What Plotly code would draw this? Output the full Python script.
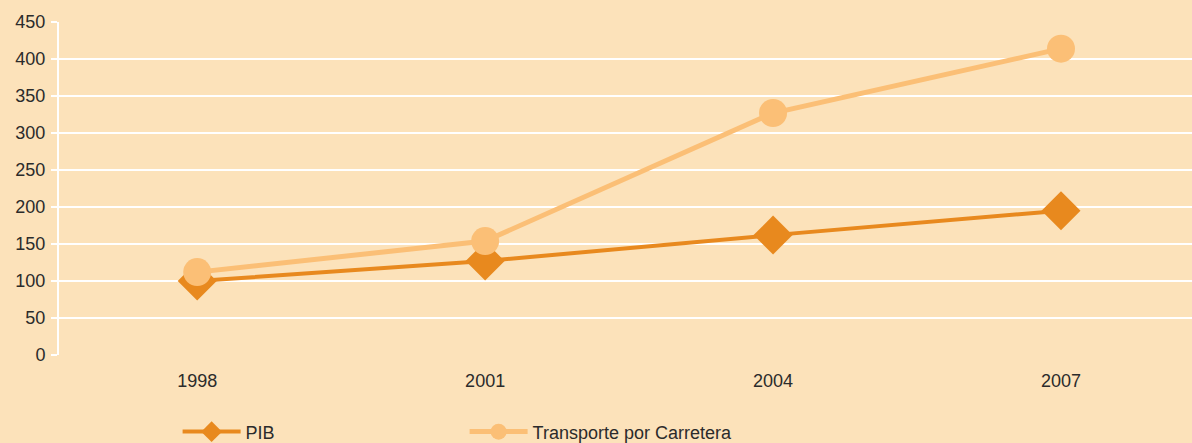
import plotly.graph_objects as go

years = ['1998', '2001', '2004', '2007']
pib = [100, 127, 162, 195]
transporte = [112, 154, 327, 414]
y_ticks = [0, 50, 100, 150, 200, 250, 300, 350, 400, 450]

bg = '#FCE2BA'
font_family = 'Liberation Sans, Arial, sans-serif'

fig = go.Figure()
fig.add_trace(go.Scatter(
    x=years, y=pib, name='PIB',
    mode='lines+markers',
    line=dict(color='#E8891E', width=4),
    marker=dict(symbol='diamond', size=30, color='#E8891E'),
))
fig.add_trace(go.Scatter(
    x=years, y=transporte, name='Transporte por Carretera',
    mode='lines+markers',
    line=dict(color='#FBBF76', width=5),
    marker=dict(symbol='circle', size=28, color='#FBBF76'),
))

fig.update_layout(
    width=1192,
    height=443,
    margin=dict(l=59, r=0, t=22, b=88),
    paper_bgcolor=bg,
    plot_bgcolor=bg,
    font=dict(family=font_family, size=18, color='#2b2b2b'),
    showlegend=True,
    legend=dict(
        orientation='h',
        xref='container', yref='container',
        x=0.149, xanchor='left',
        y=0.025, yanchor='middle',
        bgcolor='rgba(0,0,0,0)',
        itemwidth=58,
        entrywidth=214,
        font=dict(size=18),
    ),
    xaxis=dict(
        type='category',
        range=[-0.48, 3.455],
        showgrid=False,
        showline=False,
        zeroline=False,
        ticks='',
        ticklabelstandoff=13,
    ),
    yaxis=dict(
        range=[0, 450],
        tickvals=y_ticks,
        showgrid=True,
        gridcolor='white',
        gridwidth=2,
        zeroline=False,
        showline=True,
        linecolor='white',
        linewidth=2,
        ticks='outside',
        tickcolor='white',
        ticklen=6,
        tickwidth=2,
        ticklabelstandoff=2,
        fixedrange=True,
    ),
)

fig.write_html('out.html', config={'displayModeBar': False},
               post_script="document.body.style.margin='0';")
